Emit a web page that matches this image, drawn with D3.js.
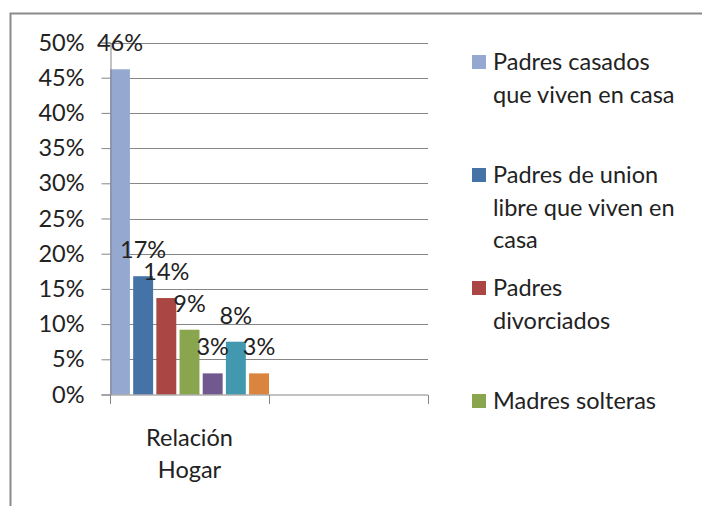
<!DOCTYPE html>
<html><head><meta charset="utf-8">
<script src="https://cdn.jsdelivr.net/npm/d3@7"></script>
<style>html,body{margin:0;padding:0;background:#fff;}svg{display:block;}</style>
</head><body>
<script>
const categories = ["Relación Hogar", ""];
const seriesNames = ["Padres casados que viven en casa", "Padres de union libre que viven en casa", "Padres divorciados", "Madres solteras", "Serie 5", "Serie 6", "Serie 7"];
const legendLines = [["Padres casados", "que viven en casa"], ["Padres de union", "libre que viven en", "casa"], ["Padres", "divorciados"], ["Madres solteras"]];
const values = [0.46, 0.17, 0.14, 0.09, 0.03, 0.08, 0.03];
const barValues = [0.462, 0.168, 0.137, 0.092, 0.03, 0.075, 0.03];
const colors = ["#95A9D0", "#4572A7", "#AA4643", "#89A54E", "#71588F", "#4198AF", "#DB843D"];
const yTicks = [0, 0.05, 0.1, 0.15, 0.2, 0.25, 0.3, 0.35, 0.4, 0.45, 0.5];

const W = 702, H = 506;
const FONT = "Lato, 'Open Sans', sans-serif";
const FS = 23.5;
const TXT = "#222";
const svg = d3.select("body").append("svg").attr("width", W).attr("height", H);

// outer chart border (left & top visible)
svg.append("path").attr("d", `M10.5,${H} V13.5 H${W}`).attr("fill", "none").attr("stroke", "#8a8a8a").attr("stroke-width", 2);

const plot = {left: 110, right: 428, top: 42.5, bottom: 394.5};
const x = d3.scaleBand().domain(categories).range([plot.left, plot.right]).padding(0);
const y = d3.scaleLinear().domain([0, 0.5]).range([plot.bottom, plot.top]);
const xs = d3.scaleBand().domain(d3.range(seriesNames.length)).range([0, x.bandwidth()]).paddingInner(0.14).paddingOuter(0);

// gridlines
svg.append("g").selectAll("line").data(yTicks.filter(d => d > 0)).join("line")
  .attr("x1", plot.left).attr("x2", plot.right)
  .attr("y1", d => Math.round(y(d)) + 0.5).attr("y2", d => Math.round(y(d)) + 0.5)
  .attr("stroke", "#868686").attr("stroke-width", 1);

// bars
const g = svg.append("g").attr("transform", `translate(${x(categories[0])},0)`);
g.selectAll("rect").data(barValues).join("rect")
  .attr("x", (d, i) => xs(i)).attr("width", xs.bandwidth())
  .attr("y", d => y(d)).attr("height", d => y(0) - y(d))
  .attr("fill", (d, i) => colors[i]);

// y axis
const yAxis = d3.axisLeft(y).tickValues(yTicks).tickFormat(d3.format(".0%")).tickSizeOuter(0).tickSize(9).tickPadding(17);
const ya = svg.append("g").attr("transform", `translate(${plot.left + 0.5},0)`).call(yAxis);
ya.select(".domain").attr("stroke", "#868686");
ya.selectAll(".tick line").attr("stroke", "#868686");
ya.selectAll(".tick text").attr("font-family", FONT).attr("font-size", FS).attr("fill", TXT);

// x axis
const xa = svg.append("g").attr("transform", `translate(0,${plot.bottom + 0.5})`);
xa.append("line").attr("x1", plot.left).attr("x2", plot.right).attr("stroke", "#868686");
xa.selectAll("line.tk").data([plot.left, x(categories[1]), plot.right]).join("line").attr("class", "tk")
  .attr("x1", d => Math.round(d) + 0.5).attr("x2", d => Math.round(d) + 0.5).attr("y1", 0).attr("y2", 9).attr("stroke", "#868686");
const catText = xa.append("text").attr("x", x(categories[0]) + x.bandwidth() / 2).attr("y", 51)
  .attr("text-anchor", "middle").attr("font-family", FONT).attr("font-size", FS).attr("fill", TXT);
catText.selectAll("tspan").data(categories[0].split(" ")).join("tspan")
  .attr("x", x(categories[0]) + x.bandwidth() / 2).attr("dy", (d, i) => i ? 32 : 0).text(d => d);

// data labels
svg.append("g").selectAll("text").data(values).join("text")
  .attr("x", (d, i) => x(categories[0]) + xs(i) + xs.bandwidth() / 2)
  .attr("y", (d, i) => Math.max(y(barValues[i]) - 18, 49))
  .attr("text-anchor", "middle").attr("font-family", FONT).attr("font-size", FS).attr("fill", TXT)
  .text(d => d3.format(".0%")(d));

// legend (only items that fit)
const lg = svg.append("g").attr("transform", "translate(472,55)");
const item = lg.selectAll("g").data(legendLines).join("g").attr("transform", (d, i) => `translate(0,${i * 113})`);
item.append("rect").attr("width", 14).attr("height", 14).attr("fill", (d, i) => colors[i]);
item.append("text").attr("font-family", FONT).attr("font-size", FS).attr("fill", TXT)
  .selectAll("tspan").data(d => d).join("tspan").attr("x", 21).attr("y", (d, i) => 15 + i * 32.5).text(d => d);
</script>
</body></html>
